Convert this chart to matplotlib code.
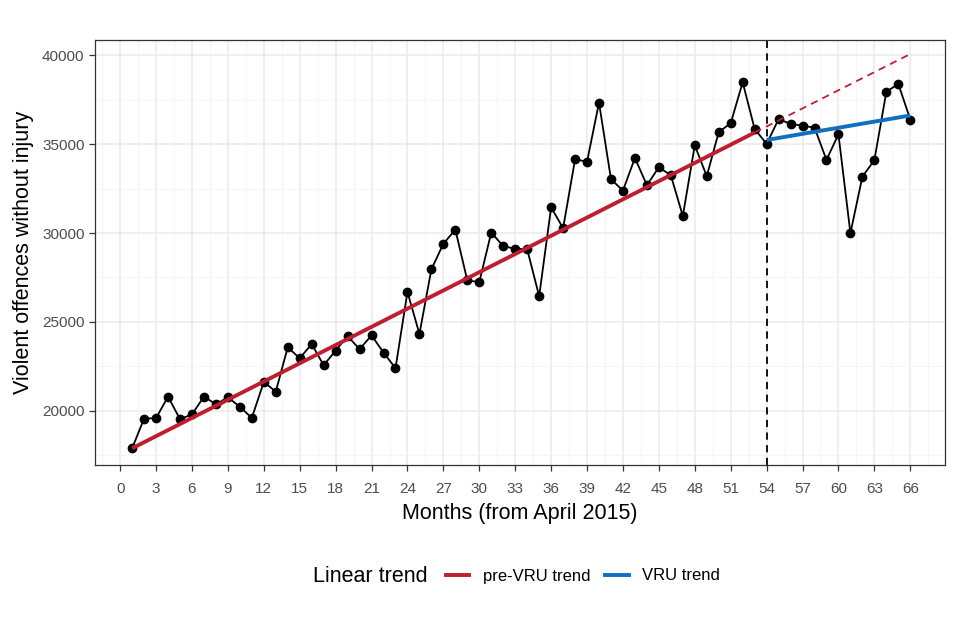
import matplotlib.pyplot as plt
import numpy as np
from matplotlib.lines import Line2D

plt.rcParams['font.family'] = ['Liberation Sans', 'DejaVu Sans']

# Monthly counts, month 1 = April 2015
months = list(range(1, 67))
offences = [
    17880, 19550, 19580, 20790, 19520, 19790, 20790, 20360, 20750, 20220,
    19590, 21620, 21070, 23570, 22950, 23750, 22560, 23380, 24200, 23460,
    24240, 23270, 22390, 26680, 24320, 27960, 29400, 30190, 27330, 27240,
    30030, 29260, 29120, 29090, 26440, 31450, 30270, 34150, 34020, 37340,
    33030, 32390, 34230, 32690, 33710, 33250, 30960, 34940, 33200, 35690,
    36180, 38490, 35860, 35020, 36410, 36150, 36040, 35940, 34120, 35560,
    29990, 33180, 34100, 37950, 38400, 36390,
]

# Linear trends (end points)
pre_months = [1, 53]
pre_values = [17880, 35660]
proj_months = [53, 66]
proj_values = [35660, 40080]
vru_months = [54, 66]
vru_values = [35240, 36620]
vru_start = 54

RED = '#BE1E2D'
BLUE = '#0F6FC0'

fig = plt.figure(figsize=(9.6, 6.4), dpi=100)
ax = fig.add_axes([95 / 960, 1 - 465 / 640, 850 / 960, 425 / 640])

ax.plot(months, offences, color='black', lw=1.3, zorder=3)
ax.plot(months, offences, 'o', color='black', ms=6, zorder=4)
ax.plot(pre_months, pre_values, color=RED, lw=2.8, zorder=5, solid_capstyle='butt')
ax.plot(proj_months, proj_values, color=RED, lw=1.3, ls=(0, (4, 3)), zorder=5)
ax.plot(vru_months, vru_values, color=BLUE, lw=2.8, zorder=5, solid_capstyle='butt')
ax.axvline(vru_start, color='black', lw=1.3, ls=(0, (4, 3)), zorder=2)

ax.set_xlim(-2.1, 68.9)
ax.set_ylim(16940, 40870)
ax.set_xticks(np.arange(0, 67, 3))
ax.set_xticks(np.arange(-1.5, 69, 1.5), minor=True)
ax.set_yticks(np.arange(20000, 40001, 5000))
ax.set_yticks(np.arange(17500, 40001, 2500), minor=True)

ax.grid(True, which='major', color='#EBEBEB', lw=1.1, zorder=0)
ax.grid(True, which='minor', color='#F4F4F4', lw=0.6, zorder=0)
ax.set_axisbelow(True)
for s in ax.spines.values():
    s.set_color('#333333')
    s.set_linewidth(0.9)
ax.tick_params(which='major', colors='#333333', labelcolor='#4D4D4D',
               labelsize=11, length=4, width=0.9)
ax.tick_params(axis='x', which='major', pad=8)
ax.tick_params(which='minor', length=0)

ax.set_xlabel('Months (from April 2015)', fontsize=15.5, labelpad=5)
ax.set_ylabel('Violent offences without injury', fontsize=15.5, labelpad=6)

handles = [Line2D([], [], color=RED, lw=2.8),
           Line2D([], [], color=BLUE, lw=2.8)]
fig.text(428 / 960, 1 - 576 / 640, 'Linear trend', fontsize=15.5,
         ha='right', va='center')
fig.legend(handles, ['pre-VRU trend', 'VRU trend'], ncol=2, frameon=False,
           loc='center left', bbox_to_anchor=(431 / 960, 1 - 576 / 640),
           fontsize=12, handlelength=1.4, handletextpad=0.8,
           columnspacing=0.9)

fig.savefig('out.png', dpi=100)
